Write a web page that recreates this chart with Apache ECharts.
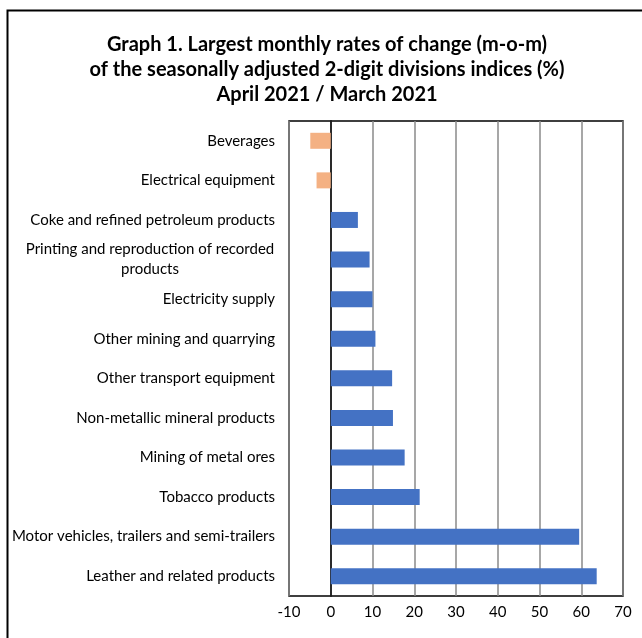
<!DOCTYPE html>
<html>
<head>
<meta charset="utf-8">
<script src="https://cdn.jsdelivr.net/npm/echarts@6/dist/echarts.min.js"></script>
<style>
html,body{margin:0;padding:0;background:#fff;}
#chart{width:642px;height:638px;}
</style>
</head>
<body>
<div id="chart"></div>
<script>
const titleLines = [
  "Graph 1. Largest monthly rates of change (m-o-m)",
  "of the seasonally adjusted 2-digit divisions indices (%)",
  "April 2021 / March 2021"
];
const categories = [
  "Beverages",
  "Electrical equipment",
  "Coke and refined petroleum products",
  "Printing and reproduction of recorded products",
  "Electricity supply",
  "Other mining and quarrying",
  "Other transport equipment",
  "Non-metallic mineral products",
  "Mining of metal ores",
  "Tobacco products",
  "Motor vehicles, trailers and semi-trailers",
  "Leather and related products"
];
const values = [-4.9, -3.4, 6.5, 9.3, 10.0, 10.7, 14.7, 14.9, 17.7, 21.3, 59.5, 63.7];
const xTicks = [-10, 0, 10, 20, 30, 40, 50, 60, 70];

const FONT = "Lato, 'Open Sans', sans-serif";
const chart = echarts.init(document.getElementById('chart'));
chart.setOption({
  animation: false,
  backgroundColor: '#fff',
  title: {
    text: titleLines.join('\n'),
    left: 322,
    textAlign: 'center',
    top: 27,
    textStyle: {fontFamily: FONT, fontWeight: 'bold', fontSize: 20, lineHeight: 25, color: '#000'}
  },
  graphic: [{
    type: 'rect',
    shape: {x: 7.5, y: 10.5, width: 700, height: 700},
    style: {fill: 'none', stroke: '#000', lineWidth: 2},
    silent: true
  }],
  grid: {left: 289, right: 19, top: 121, bottom: 42, show: true, borderColor: '#000', borderWidth: 1.5, backgroundColor: 'transparent'},
  xAxis: {
    type: 'value',
    min: xTicks[0], max: xTicks[xTicks.length - 1], interval: 10,
    axisLine: {show: false},
    axisTick: {show: false},
    splitLine: {show: true, lineStyle: {color: '#8a8a8a', width: 1.5}},
    axisLabel: {fontFamily: FONT, fontSize: 15, color: '#000', margin: 9}
  },
  yAxis: {
    type: 'category',
    inverse: true,
    data: categories,
    axisLine: {show: true, onZero: true, lineStyle: {color: '#000', width: 1.5}},
    axisTick: {show: false},
    splitLine: {show: false},
    axisLabel: {
      fontFamily: FONT, fontSize: 15, color: '#000', margin: 14,
      formatter: function (v) {
        if (v === "Printing and reproduction of recorded products") {
          return '{c|Printing and reproduction of recorded}\n{c|products}';
        }
        return v;
      },
      rich: {c: {width: 250, align: 'center', fontFamily: FONT, fontSize: 15, lineHeight: 20, color: '#000'}}
    }
  },
  series: [{
    type: 'bar',
    data: values.map(v => ({value: v, itemStyle: {color: v < 0 ? '#F4B183' : '#4472C4'}})),
    barWidth: 16
  }]
});
</script>
</body>
</html>
